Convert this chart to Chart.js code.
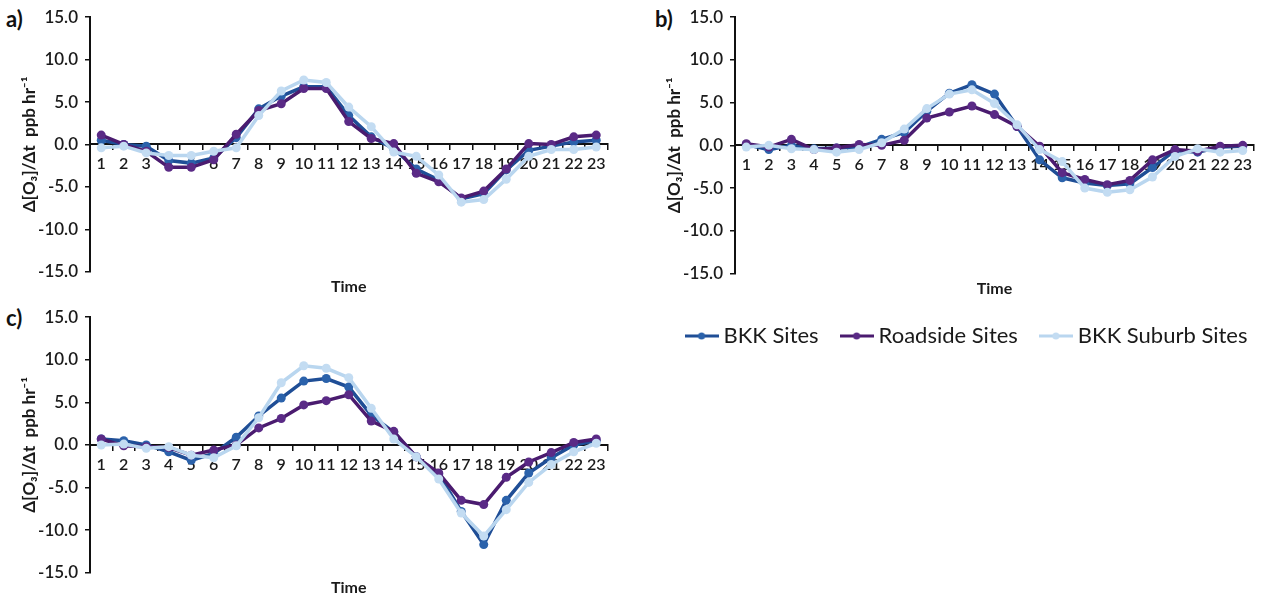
<!DOCTYPE html>
<html><head><meta charset="utf-8">
<script src="https://cdn.jsdelivr.net/npm/chart.js@4.4.1/dist/chart.umd.min.js"></script>
<style>
html,body{margin:0;padding:0;background:#fff;}
body{width:1267px;height:602px;position:relative;overflow:hidden;font-family:Lato,sans-serif;}
canvas{position:absolute;display:block;}
.lbl{position:absolute;font:bold 22px Lato,sans-serif;color:#111;line-height:1;}
</style></head><body>
<div class="lbl" style="left:6px;top:8px">a)</div>
<div class="lbl" style="left:655px;top:8px">b)</div>
<div class="lbl" style="left:6px;top:307px">c)</div>
<canvas id="ca" width="620" height="300" style="left:0;top:0"></canvas>
<canvas id="cb" width="627" height="305" style="left:640px;top:0"></canvas>
<canvas id="cc" width="620" height="302" style="left:0;top:300px"></canvas>
<canvas id="cl" width="680" height="160" style="left:629px;top:298px"></canvas>
<script>
// ---- data ----
const hours = ['1','2','3','4','5','6','7','8','9','10','11','12','13','14','15','16','17','18','19','20','21','22','23'];
const seriesNames = ['BKK Sites', 'Roadside Sites', 'BKK Suburb Sites'];
const yTicks = [-15, -10, -5, 0, 5, 10, 15];

const aBKK  = [0.5, 0.0, -0.2, -1.9, -2.2, -1.6, 0.8, 4.2, 5.7, 6.8, 6.8, 3.4, 0.9, -0.5, -2.9, -4.2, -6.4, -5.8, -3.0, -0.7, -0.2, 0.3, 0.5];
const aRoad = [1.1, 0.0, -0.8, -2.7, -2.7, -1.8, 1.2, 4.0, 4.8, 6.6, 6.6, 2.7, 0.7, 0.1, -3.4, -4.4, -6.3, -5.5, -2.9, 0.1, 0.0, 0.9, 1.1];
const aSub  = [-0.4, -0.2, -1.0, -1.3, -1.3, -0.8, -0.4, 3.4, 6.3, 7.6, 7.3, 4.4, 2.1, -0.9, -1.4, -3.6, -6.8, -6.5, -4.1, -1.4, -0.6, -0.6, -0.3];

const bBKK  = [0.1, -0.5, 0.0, -0.4, -0.3, -0.2, 0.7, 1.5, 4.0, 6.1, 7.1, 6.0, 2.2, -1.7, -3.8, -4.4, -4.7, -4.5, -2.6, -0.6, -0.8, -0.2, -0.1];
const bRoad = [0.2, -0.2, 0.7, -0.5, -0.3, 0.1, 0.0, 0.6, 3.2, 3.9, 4.6, 3.6, 2.2, -0.1, -3.2, -4.0, -4.6, -4.1, -1.7, -0.5, -0.7, -0.1, 0.0];
const bSub  = [-0.2, 0.0, -0.4, -0.5, -0.8, -0.5, 0.3, 1.9, 4.3, 6.0, 6.5, 4.9, 2.4, -0.5, -1.9, -5.0, -5.5, -5.2, -3.7, -1.3, -0.4, -0.8, -0.6];

const cBKK  = [0.7, 0.5, 0.0, -0.8, -1.8, -1.0, 0.9, 3.4, 5.5, 7.5, 7.8, 6.8, 3.5, 1.5, -1.4, -3.4, -7.8, -11.7, -6.5, -3.3, -1.5, 0.0, 0.5];
const cRoad = [0.7, -0.1, -0.2, -0.3, -1.2, -0.6, 0.0, 2.0, 3.1, 4.7, 5.2, 5.9, 2.8, 1.6, -1.4, -3.3, -6.5, -7.0, -3.8, -2.0, -0.9, 0.3, 0.7];
const cSub  = [0.0, 0.1, -0.4, -0.2, -1.2, -1.5, -0.1, 3.2, 7.3, 9.3, 9.0, 7.9, 4.3, 0.7, -1.4, -4.0, -8.0, -10.7, -7.6, -4.4, -2.3, -0.8, 0.2];

// ---- style ----
const FONT = 'Lato, "Open Sans", sans-serif';
const COL = {
  bkk:  {line: '#1f4e96', pt: '#2b62ab'},
  road: {line: '#4a1b6f', pt: '#5a2a86'},
  sub:  {line: '#b9d6ef', pt: '#c3dcf2'}
};
const yTitle = 'Δ[O₃]/Δt  ppb hr⁻¹';

function ds(label, data, c, order) {
  return {label, data, borderColor: c.line, backgroundColor: c.pt,
    pointBackgroundColor: c.pt, pointBorderColor: c.pt, pointRadius: 4.5,
    pointBorderWidth: 0, borderWidth: 3.5, tension: 0, order};
}

function panel(id, bkk, road, sub, L) {
  return new Chart(document.getElementById(id), {
    type: 'line',
    data: {labels: hours, datasets: [
      ds(seriesNames[0], bkk, COL.bkk, 3),
      ds(seriesNames[1], road, COL.road, 2),
      ds(seriesNames[2], sub, COL.sub, 1)
    ]},
    options: {
      responsive: false, animation: false, events: [],
      layout: {padding: {left: 0, top: L.top, right: L.right, bottom: L.bottom}},
      plugins: {legend: {display: false}, tooltip: {enabled: false}},
      scales: {
        x: {type: 'category', position: {y: 0}, offset: true,
          grid: {display: true, drawOnChartArea: false, drawTicks: true, tickLength: 5, offset: true, color: '#111', lineWidth: 1.5},
          border: {display: true, color: '#111', width: 2},
          ticks: {font: {family: FONT, size: 16, weight: '600'}, color: '#1a1a1a', padding: 5, maxRotation: 0, autoSkip: false}},
        x2: {type: 'category', axis: 'x', position: 'bottom', offset: true, labels: hours,
          grid: {display: false}, border: {display: false}, ticks: {display: false},
          title: {display: true, text: 'Time', color: '#1a1a1a', font: {family: FONT, size: 16, weight: 'bold'}, padding: {top: 0, bottom: 3}},
          afterFit: s => { s.height = 28; }},
        y: {min: yTicks[0], max: yTicks[yTicks.length - 1], position: 'left',
          afterBuildTicks: s => { s.ticks = yTicks.map(v => ({value: v})); },
          ticks: {callback: v => Number(v).toFixed(1), font: {family: FONT, size: 17, weight: '600'}, color: '#1a1a1a', padding: 7},
          grid: {drawOnChartArea: false, tickLength: 5, color: '#111', lineWidth: 1.5},
          border: {color: '#111', width: 2},
          title: {display: true, text: yTitle, color: '#1a1a1a', font: {family: FONT, size: 17, weight: 'bold'}, padding: {top: L.tpad, bottom: 0}},
          afterFit: s => { s.width = L.yw; }}
      }
    }
  });
}

panel('ca', aBKK, aRoad, aSub, {top: 15, right: 12.5, bottom: 300 - 271.7 - 28, yw: 90, tpad: 19});
panel('cb', bBKK, bRoad, bSub, {top: 17, right: 13, bottom: 305 - 273.5 - 28, yw: 95, tpad: 24});
panel('cc', cBKK, cRoad, cSub, {top: 15, right: 12.5, bottom: 302 - 272.7 - 28, yw: 90, tpad: 19});

// ---- legend ----
function marker(c) {
  const cv = document.createElement('canvas');
  cv.width = 34; cv.height = 10;
  const g = cv.getContext('2d');
  g.strokeStyle = c.line; g.lineWidth = 3;
  g.beginPath(); g.moveTo(0, 5); g.lineTo(34, 5); g.stroke();
  g.fillStyle = c.pt; g.beginPath(); g.arc(17, 5, 3.5, 0, Math.PI * 2); g.fill();
  return cv;
}
const legendCols = [COL.bkk, COL.road, COL.sub];
new Chart(document.getElementById('cl'), {
  type: 'line',
  data: {labels: [], datasets: seriesNames.map((n, i) => ({label: n, data: [], borderColor: legendCols[i].line, backgroundColor: legendCols[i].pt}))},
  options: {
    responsive: false, animation: false, events: [],
    layout: {padding: 0},
    scales: {x: {display: false}, y: {display: false}},
    plugins: {
      tooltip: {enabled: false},
      legend: {display: true, position: 'top',
        labels: {usePointStyle: true, pointStyleWidth: 22, padding: 27, color: '#1a1a1a',
          font: {family: FONT, size: 22},
          generateLabels: ch => ch.data.datasets.map((d, i) => ({
            text: d.label, pointStyle: marker(legendCols[i]), fillStyle: legendCols[i].pt,
            strokeStyle: legendCols[i].line, lineWidth: 0, hidden: false, datasetIndex: i, fontColor: '#1a1a1a'}))}}
    }
  }
});
</script>
</body></html>
